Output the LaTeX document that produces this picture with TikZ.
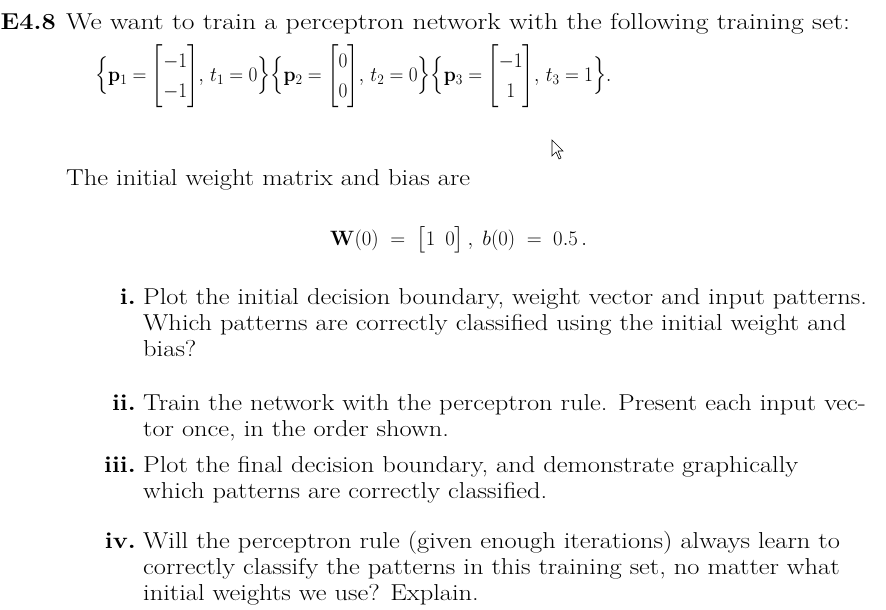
\documentclass[tikz,border=0pt]{standalone}
\usepackage{amsmath,amssymb,bm}
\begin{document}
\begin{tikzpicture}[x=1pt,y=-1pt,
  txt/.style={anchor=base west,inner sep=0pt,transform shape,xscale=1.15,font=\fontsize{23}{26}\selectfont},
  lbl/.style={anchor=base east,inner sep=0pt,transform shape,xscale=1.1,font=\fontsize{23}{26}\selectfont\bfseries}]
\useasboundingbox (0,0) rectangle (886,610);
\node[lbl] (e) at (56,30) {E4.8};
\node[txt,xscale=1.045] (l1) at (66,30) {We want to train a perceptron network with the following training set:};
\node[anchor=west,inner sep=0pt,transform shape,xscale=0.93,font=\fontsize{21}{24}\selectfont] (eq) at (95,76)
 {\renewcommand{\arraystretch}{1.25}$\Bigl\{\mathbf{p}_1=\begin{bmatrix}\displaystyle-1\\\displaystyle-1\end{bmatrix}\!,\,t_1=0\Bigr\}\Bigl\{\mathbf{p}_2=\begin{bmatrix}\displaystyle0\\\displaystyle0\end{bmatrix}\!,\,t_2=0\Bigr\}\Bigl\{\mathbf{p}_3=\begin{bmatrix}\displaystyle-1\\\displaystyle1\end{bmatrix}\!,\,t_3=1\Bigr\}.$};
\node[txt] (l2) at (66,185) {The initial weight matrix and bias are};
\node[anchor=west,inner sep=0pt,font=\fontsize{22}{26}\selectfont] (w) at (330,240)
 {$\mathbf{W}(0)\;=\;\begin{bmatrix}1&0\end{bmatrix},\;b(0)\;=\;0.5\,.$};
\node[lbl] (i) at (136,304) {i.};
\node[txt] (i1) at (143,304) {Plot the initial decision boundary, weight vector and input patterns.};
\node[txt] (i2) at (143,330) {Which patterns are correctly classified using the initial weight and};
\node[txt] (i3) at (143,356) {bias?};
\node[lbl] (ii) at (136,410) {ii.};
\node[txt] (ii1) at (143,410) {Train the network with the perceptron rule. Present each input vec-};
\node[txt] (ii2) at (143,436) {tor once, in the order shown.};
\node[lbl] (iii) at (136,472) {iii.};
\node[txt] (iii1) at (143,472) {Plot the final decision boundary, and demonstrate graphically};
\node[txt] (iii2) at (143,498) {which patterns are correctly classified.};
\node[lbl] (iv) at (136,548) {iv.};
\node[txt] (iv1) at (143,548) {Will the perceptron rule (given enough iterations) always learn to};
\node[txt] (iv2) at (143,574) {correctly classify the patterns in this training set, no matter what};
\node[txt] (iv3) at (143,600) {initial weights we use? Explain.};
% cursor
\draw[fill=white,line width=0.6pt] (552,140) -- (552,156) -- (556,152) -- (559,159) -- (561,158) -- (558,151) -- (563,151) -- cycle;
\end{tikzpicture}
\end{document}
